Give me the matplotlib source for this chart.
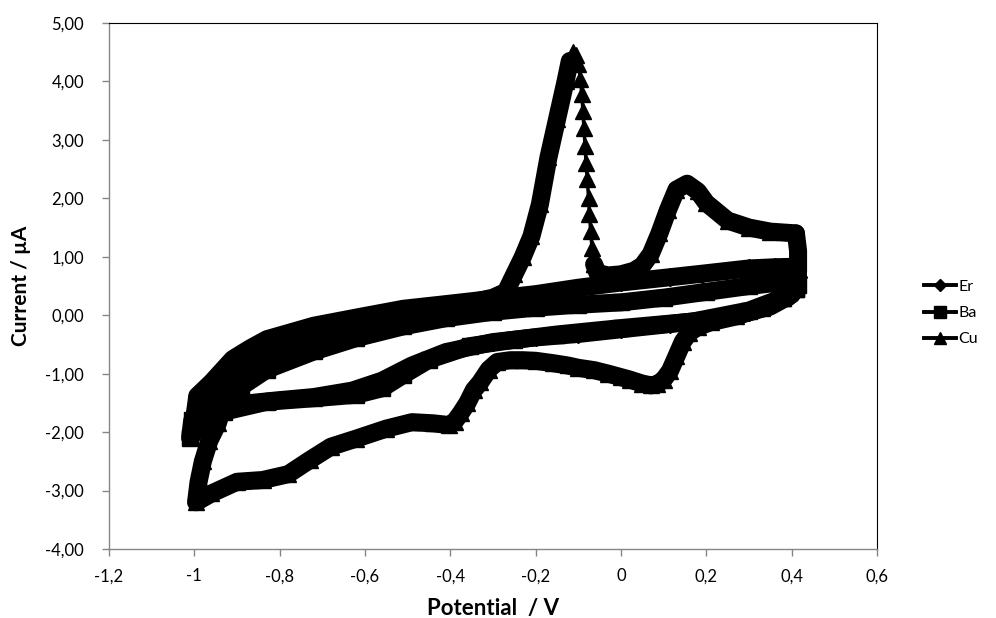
import numpy as np
import matplotlib.pyplot as plt
from matplotlib.lines import Line2D
from matplotlib.ticker import FuncFormatter, MultipleLocator

plt.rcParams['font.family'] = ['Lato', 'DejaVu Sans']

# Er: start at +0.41 V, sweep cathodic to -1.0 V and back
er_v = [0.41, 0.40, 0.35, 0.30, 0.20, 0.115, 0.00, -0.10, -0.20, -0.30, -0.41, -0.49, -0.56, -0.63, -0.72, -0.81,
        -0.89, -0.95, -1.00,
        -0.993, -0.96, -0.91, -0.87, -0.83, -0.72, -0.62, -0.51, -0.41, -0.30, -0.20, -0.10, 0.00, 0.115, 0.19,
        0.30, 0.36, 0.41, 0.415, 0.41]
er_i = [0.50, 0.35, 0.15, 0.05, -0.08, -0.15, -0.24, -0.32, -0.38, -0.46, -0.63, -0.86, -1.12, -1.29, -1.40, -1.46,
        -1.52, -1.60, -1.75,
        -1.38, -1.15, -0.75, -0.57, -0.41, -0.18, -0.04, 0.11, 0.19, 0.28, 0.36, 0.47, 0.56, 0.65, 0.71,
        0.80, 0.82, 0.83, 0.65, 0.50]

# Ba
ba_v = [0.41, 0.38, 0.30, 0.167, 0.00, -0.15, -0.25, -0.355, -0.45, -0.51, -0.56, -0.62, -0.72, -0.83, -0.93,
        -0.98, -1.01,
        -1.005, -0.99, -0.96, -0.92, -0.89, -0.83, -0.72, -0.62, -0.51, -0.41, -0.30, -0.20, -0.10, 0.00, 0.10,
        0.20, 0.30, 0.37, 0.41, 0.415, 0.41]
ba_i = [0.45, 0.30, 0.08, -0.11, -0.22, -0.33, -0.42, -0.53, -0.76, -1.02, -1.25, -1.36, -1.42, -1.48, -1.65,
        -1.85, -2.10,
        -1.80, -1.55, -1.42, -1.30, -1.22, -0.93, -0.62, -0.39, -0.19, -0.05, 0.06, 0.13, 0.18, 0.22, 0.30,
        0.40, 0.50, 0.56, 0.60, 0.52, 0.45]

# Cu: cathodic sweep, then anodic sweep up the stripping peak
cu_a_v = [0.41, 0.415, 0.415, 0.41, 0.38, 0.33, 0.27, 0.21, 0.18, 0.16, 0.145, 0.13, 0.115, 0.10, 0.085, 0.07,
          0.05, 0.02, 0.00, -0.03, -0.063, -0.10, -0.125, -0.16, -0.20, -0.23, -0.26, -0.29, -0.31, -0.33,
          -0.345, -0.36, -0.376, -0.39, -0.402, -0.44, -0.49, -0.55, -0.62, -0.68, -0.73, -0.78, -0.84, -0.90,
          -0.96, -0.996,
          -0.99, -0.98, -0.965, -0.945, -0.93, -0.915, -0.895, -0.87, -0.83, -0.75, -0.65, -0.55, -0.45, -0.35,
          -0.30, -0.27, -0.25, -0.23, -0.21, -0.19, -0.17, -0.15, -0.13, -0.12]
cu_a_i = [1.40, 1.10, 0.75, 0.50, 0.30, 0.12, -0.02, -0.12, -0.20, -0.30, -0.45, -0.70, -0.95, -1.10, -1.18,
          -1.20, -1.17, -1.10, -1.06, -1.00, -0.94, -0.90, -0.86, -0.82, -0.78, -0.77, -0.77, -0.80, -0.93,
          -1.15, -1.28, -1.50, -1.68, -1.82, -1.88, -1.85, -1.83, -1.94, -2.11, -2.25, -2.48, -2.72, -2.82,
          -2.85, -3.05, -3.20,
          -2.85, -2.50, -2.15, -1.85, -1.50, -1.20, -0.98, -0.82, -0.66, -0.45, -0.24, -0.06, 0.08, 0.22,
          0.30, 0.40, 0.70, 1.00, 1.35, 1.90, 2.70, 3.35, 4.00, 4.35]
# Cu: top of the stripping peak and the fast fall after it
cu_s_v = [-0.12, -0.113, -0.106, -0.100, -0.095, -0.092, -0.089, -0.087, -0.084, -0.082, -0.079, -0.076, -0.074,
          -0.071, -0.068, -0.063]
cu_s_i = [4.35, 4.50, 4.45, 4.30, 4.05, 3.78, 3.49, 3.20, 2.89, 2.60, 2.33, 2.00, 1.73, 1.44, 1.15, 0.87]
# Cu: rest of the anodic sweep back to +0.41 V
cu_b_v = [-0.055, -0.03, 0.00, 0.03, 0.05, 0.07, 0.09, 0.11, 0.13, 0.155, 0.18, 0.20, 0.25, 0.30, 0.35, 0.41]
cu_b_i = [0.72, 0.68, 0.70, 0.76, 0.85, 1.05, 1.40, 1.80, 2.15, 2.25, 2.12, 1.92, 1.62, 1.50, 1.43, 1.40]

names = ['Er', 'Ba', 'Cu']
marks = ['D', 's', '^']

fig = plt.figure(figsize=(9.96, 6.18), dpi=100)
ax = fig.add_axes([109 / 996, 69 / 618, 768 / 996, 526 / 618])

# dense scans: a wide line stands in for the overlapping markers
thick = dict(color='k', lw=13, solid_joinstyle='round', solid_capstyle='round')
ax.plot(er_v, er_i, marker='D', ms=9, **thick)
ax.plot(ba_v, ba_i, marker='s', ms=12, **thick)
ax.plot(cu_a_v, cu_a_i, marker='^', ms=12, **thick)
ax.plot(cu_s_v[-1:] + cu_b_v, cu_s_i[-1:] + cu_b_i, marker='^', ms=12, **thick)
ax.plot(cu_s_v, cu_s_i, color='k', lw=2.5, marker='^', ms=12)

ax.set_xlim(-1.2, 0.6)
ax.set_ylim(-4, 5)
ax.xaxis.set_major_locator(MultipleLocator(0.2))
ax.yaxis.set_major_locator(MultipleLocator(1))


def xfmt(v, pos):
    v = round(v, 2)
    if v == 0:
        return '0'
    return f'{v:g}'.replace('.', ',')


ax.xaxis.set_major_formatter(FuncFormatter(xfmt))
ax.yaxis.set_major_formatter(FuncFormatter(lambda v, p: f'{v:.2f}'.replace('.', ',')))

for s in ['top', 'right']:
    ax.spines[s].set_color('k')
    ax.spines[s].set_linewidth(0.8)
for s in ['left', 'bottom']:
    ax.spines[s].set_color('#868686')
    ax.spines[s].set_linewidth(1.0)
ax.tick_params(direction='out', length=5, width=1, color='#868686', labelsize=12)
ax.tick_params(axis='y', pad=13)
ax.tick_params(axis='x', pad=9)

ax.set_xlabel('Potential  / V', fontsize=16, fontweight='bold', labelpad=10)
ax.set_ylabel('Current / µA', fontsize=15, fontweight='bold', labelpad=10)

handles = [Line2D([], [], color='k', lw=2.8, marker=m, ms=(6 if m == 'D' else 8)) for m in marks]
fig.legend(handles, names, loc='center left', bbox_to_anchor=(924 / 996, 1 - 313 / 618), frameon=False,
           fontsize=11.5, handlelength=2.0, handletextpad=0.15, labelspacing=0.75, borderpad=0, borderaxespad=0)

fig.savefig('out.png', dpi=100)
